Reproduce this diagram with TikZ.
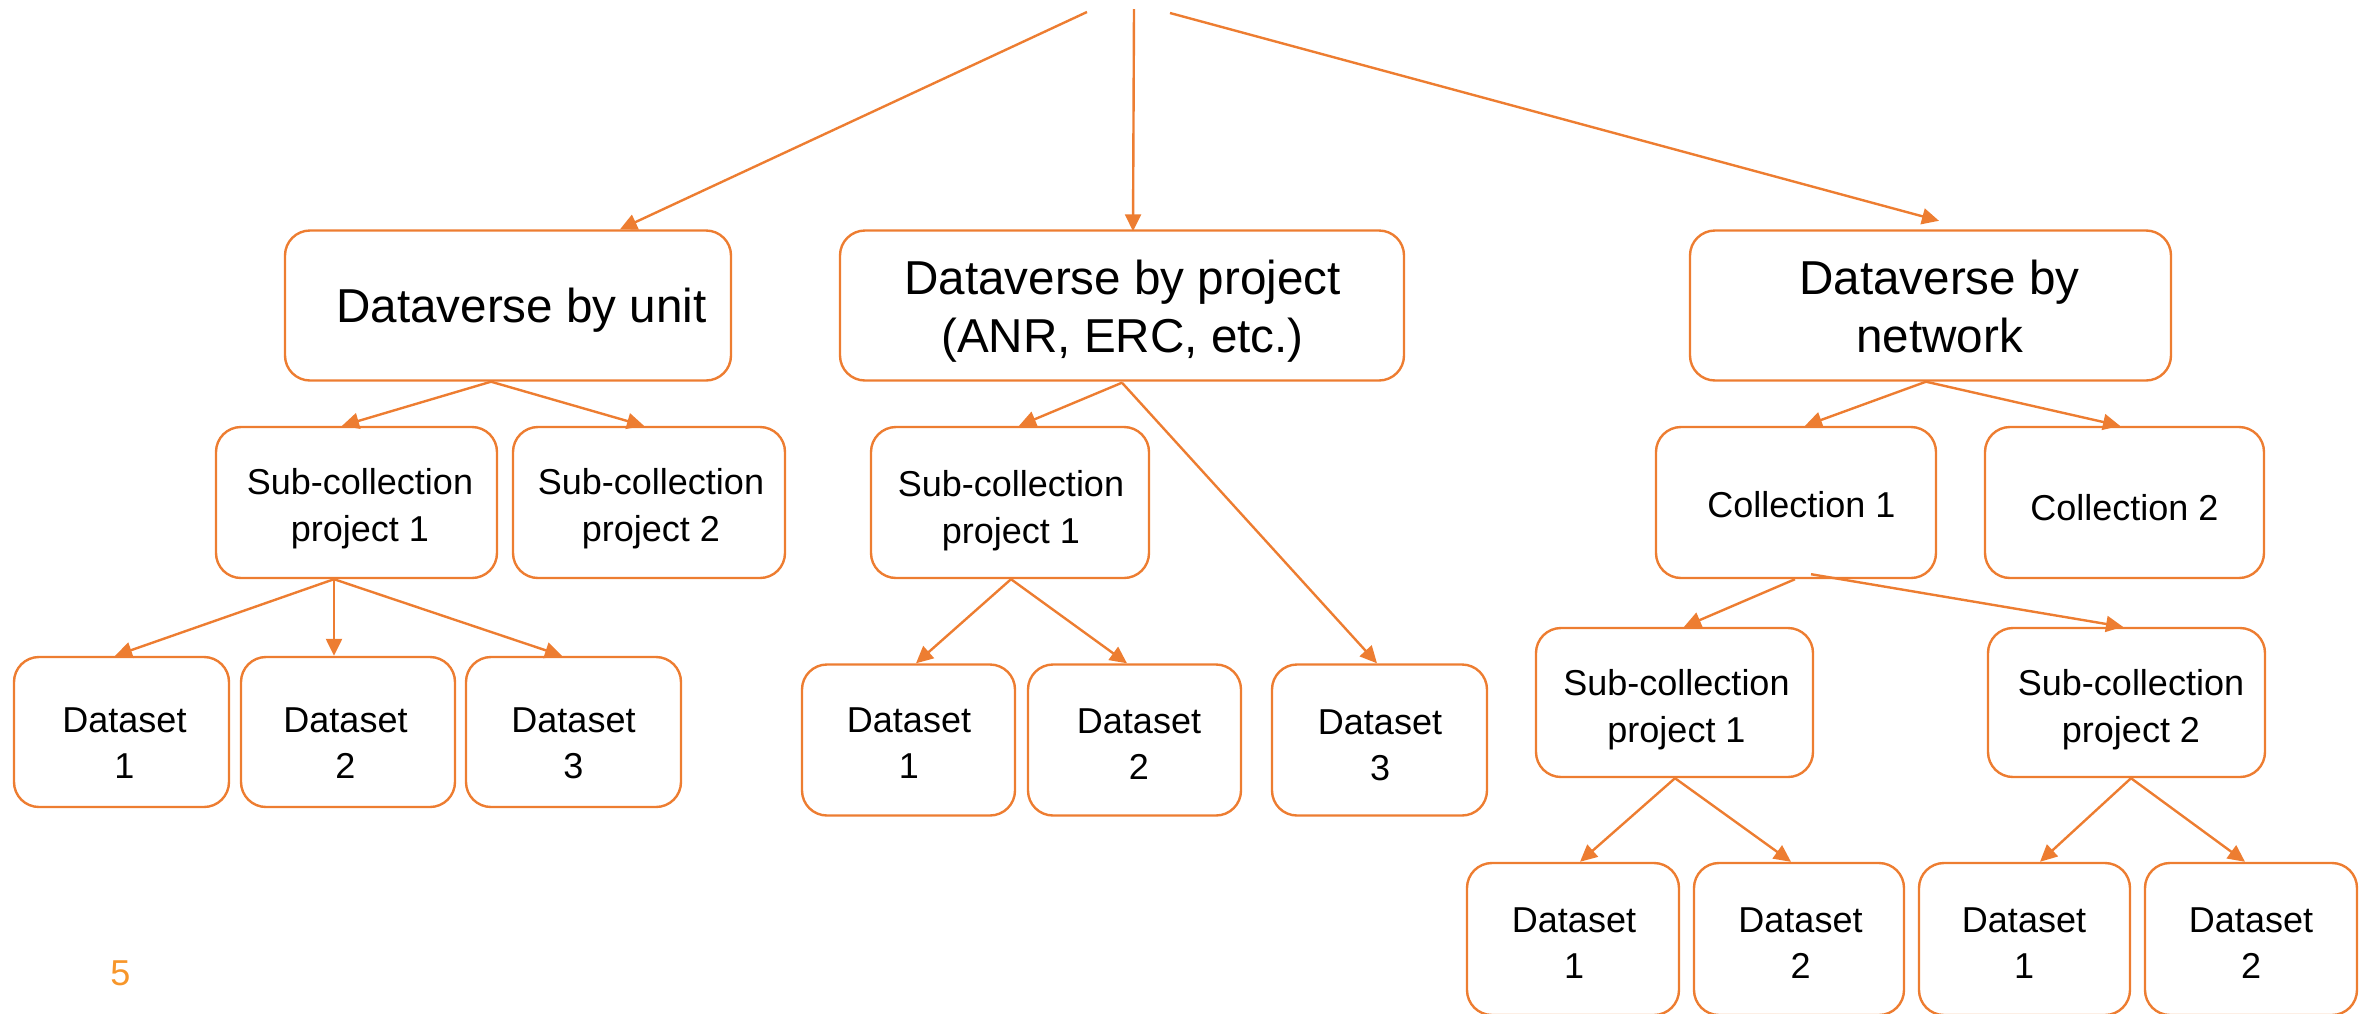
\documentclass[tikz,border=0pt]{standalone}
\usepackage{fontspec}
\setmainfont{Liberation Sans}
\usetikzlibrary{arrows.meta,calc}
\definecolor{orline}{HTML}{ED7D31}
\definecolor{ornum}{HTML}{F7962A}
\begin{document}
\begin{tikzpicture}[x=0.5pt,y=-0.5pt,
  box/.style 2 args={draw=orline,line width=1.2pt,rounded corners=12.5pt,
    minimum width={#1*0.5pt},minimum height={#2*0.5pt},inner sep=0pt},
  big/.style={font=\fontsize{23.8}{29}\selectfont,align=center,inner sep=0pt,anchor=north},
  mid/.style={font=\fontsize{18}{23.5}\selectfont,align=center,inner sep=0pt,anchor=north},
  ds/.style={font=\fontsize{18}{23}\selectfont,align=center,inner sep=0pt,anchor=north},
  conn/.style={draw=orline,line width=1.2pt,-{Triangle[length=8.5pt,width=8pt]}}]
\clip (0,0) rectangle (2374,1013);
% level 1
\node[box={446}{150}] (A) at (508,305.5) {};
\node[box={564}{150}] (B) at (1122,305.5) {};
\node[box={481}{150}] (C) at (1930.5,305.5) {};
% level 2
\node[box={281}{151}] (A1) at (356.5,502.5) {};
\node[box={272}{151}] (A2) at (649,502.5) {};
\node[box={278}{151}] (B1) at (1010,502.5) {};
\node[box={280}{151}] (C1) at (1796,502.5) {};
\node[box={279}{151}] (C2) at (2124.5,502.5) {};
% level 3
\node[box={215}{150}] (AD1) at (121.5,732) {};
\node[box={214}{150}] (AD2) at (348,732) {};
\node[box={215}{150}] (AD3) at (573.5,732) {};
\node[box={213}{151}] (BD1) at (908.5,740) {};
\node[box={213}{151}] (BD2) at (1134.5,740) {};
\node[box={215}{151}] (BD3) at (1379.5,740) {};
\node[box={277}{149}] (C1a) at (1674.5,702.5) {};
\node[box={277}{149}] (C1b) at (2126.5,702.5) {};
% level 4
\node[box={212}{152}] (CD1) at (1573,939) {};
\node[box={210}{152}] (CD2) at (1799,939) {};
\node[box={211}{152}] (CD3) at (2024.5,939) {};
\node[box={212}{152}] (CD4) at (2251,939) {};
% texts
\node[big] (tA) at (521.5,288) {Dataverse by unit};
\node[big] (tB) at (1122.5,260) {Dataverse by project\\(ANR, ERC, etc.)};
\node[big] (tC) at (1939.5,260) {Dataverse by\\network};
\node[mid] (tA1) at (360,468) {Sub-collection\\project 1};
\node[mid] (tA2) at (651,468) {Sub-collection\\project 2};
\node[mid] (tB1) at (1011,470) {Sub-collection\\project 1};
\node[mid] (tC1) at (1801.5,491) {Collection 1};
\node[mid] (tC2) at (2124.5,494) {Collection 2};
\node[mid] (tC1a) at (1676.5,669) {Sub-collection\\project 1};
\node[mid] (tC1b) at (2131,669) {Sub-collection\\project 2};
\node[ds] (tAD1) at (124.5,707) {Dataset\\1};
\node[ds] (tAD2) at (345.5,707) {Dataset\\2};
\node[ds] (tAD3) at (573.5,707) {Dataset\\3};
\node[ds] (tBD1) at (909,707) {Dataset\\1};
\node[ds] (tBD2) at (1139,708) {Dataset\\2};
\node[ds] (tBD3) at (1380,709) {Dataset\\3};
\node[ds] (tCD1) at (1574,907) {Dataset\\1};
\node[ds] (tCD2) at (1800.5,907) {Dataset\\2};
\node[ds] (tCD3) at (2024,907) {Dataset\\1};
\node[ds] (tCD4) at (2251,907) {Dataset\\2};
\node[font=\fontsize{18}{22}\selectfont,text=ornum,inner sep=0pt] (pg) at (120.5,973) {5};
% connectors
\coordinate (top1) at (1087,12);
\coordinate (top2) at (1134,9);
\coordinate (top3) at (1170,13);
\draw[conn] (top1) -- ($(A.north)+(112,0)$);
\draw[conn] (top2) -- ($(B.north)+(11,2)$);
\draw[conn] (top3) -- ($(C.north)+(8.5,-8.5)$);
\draw[conn] ($(A.south)+(-17,0)$) -- ($(A1.north)+(-14.5,0)$);
\draw[conn] ($(A.south)+(-17,0)$) -- ($(A2.north)+(-5,0)$);
\draw[conn] ($(A1.south)+(-22.5,0)$) -- ($(AD1.north)+(-6.5,0)$);
\draw[conn] ($(A1.south)+(-22.5,0)$) -- ($(AD2.north)+(-14,0)$);
\draw[conn] ($(A1.south)+(-22.5,0)$) -- ($(AD3.north)+(-11.5,0)$);
\draw[conn] ($(B.south)+(0,1)$) -- ($(B1.north)+(9,0)$);
\draw[conn] ($(B.south)+(0,1)$) -- ($(BD3.north)+(-2.5,0)$);
\draw[conn] ($(B1.south)+(1,0)$) -- ($(BD1.north)+(7.5,0)$);
\draw[conn] ($(B1.south)+(1,0)$) -- ($(BD2.north)+(-7.5,0)$);
\draw[conn] ($(C.south)+(-4.5,0)$) -- ($(C1.north)+(9,0)$);
\draw[conn] ($(C.south)+(-4.5,0)$) -- ($(C2.north)+(-4.5,0)$);
\draw[conn] ($(C1.south)+(-1,0)$) -- ($(C1a.north)+(9.5,0)$);
\draw[conn] ($(C1.south)+(15,-5)$) -- ($(C1b.north)+(-3.5,0)$);
\draw[conn] ($(C1a.south)+(0.5,0)$) -- ($(CD1.north)+(7,0)$);
\draw[conn] ($(C1a.south)+(0.5,0)$) -- ($(CD2.north)+(-8,0)$);
\draw[conn] ($(C1b.south)+(4.5,0)$) -- ($(CD3.north)+(15.5,0)$);
\draw[conn] ($(C1b.south)+(4.5,0)$) -- ($(CD4.north)+(-6,0)$);
\end{tikzpicture}
\end{document}
